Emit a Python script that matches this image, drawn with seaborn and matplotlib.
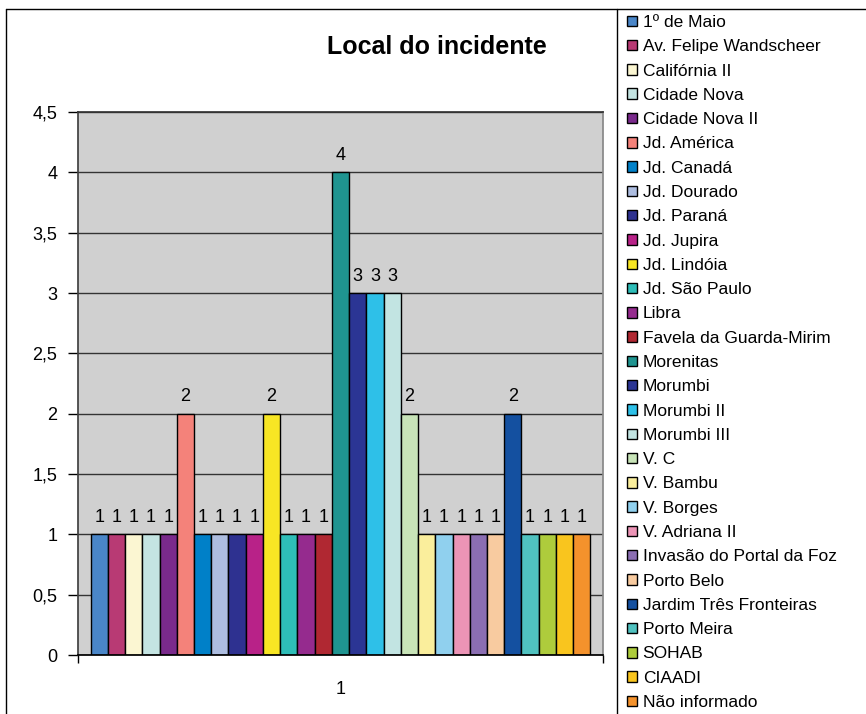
import numpy as np
import pandas as pd
import seaborn as sns
import matplotlib.pyplot as plt
from matplotlib.patches import Patch
from matplotlib.lines import Line2D

# dados
locais = ['1º de Maio', 'Av. Felipe Wandscheer', 'Califórnia II', 'Cidade Nova',
          'Cidade Nova II', 'Jd. América', 'Jd. Canadá', 'Jd. Dourado', 'Jd. Paraná',
          'Jd. Jupira', 'Jd. Lindóia', 'Jd. São Paulo', 'Libra', 'Favela da Guarda-Mirim',
          'Morenitas', 'Morumbi', 'Morumbi II', 'Morumbi III', 'V. C', 'V. Bambu',
          'V. Borges', 'V. Adriana II', 'Invasão do Portal da Foz', 'Porto Belo',
          'Jardim Três Fronteiras', 'Porto Meira', 'SOHAB', 'CIAADI', 'Não informado']
ocorrencias = [1, 1, 1, 1, 1, 2, 1, 1, 1, 1, 2, 1, 1, 1, 4, 3, 3, 3, 2, 1, 1, 1, 1, 1, 2, 1, 1, 1, 1]
cores = ['#4A86C8', '#B83A74', '#FBF6D2', '#C4E4E2', '#7A2A8C', '#F4827A', '#0080C8',
         '#ADBDE0', '#2E3190', '#B82288', '#F8E624', '#2EBDB8', '#952B8E', '#B02832',
         '#1F9490', '#2B3594', '#2EC0E8', '#C2E4E2', '#C8E4B8', '#FAEE9C', '#90D0EE',
         '#EC94B6', '#8B6EB2', '#F8CBA0', '#1450A0', '#50C2C0', '#AECC3C', '#F9C51E',
         '#F4922C']
y_ticks = [0, 0.5, 1, 1.5, 2, 2.5, 3, 3.5, 4, 4.5]

sns.set_theme(style='white')
plt.rcParams['font.family'] = ['Liberation Sans', 'DejaVu Sans']
plt.rcParams['text.color'] = 'black'
plt.rcParams['xtick.color'] = 'black'
plt.rcParams['ytick.color'] = 'black'

df = pd.DataFrame({'grupo': ['1'] * len(locais), 'local': locais, 'valor': ocorrencias})

fig = plt.figure(figsize=(8.66, 7.14), dpi=100)
ax = fig.add_axes([78 / 866, 59 / 714, 525 / 866, 543 / 714])

sns.barplot(data=df, x='grupo', y='valor', hue='local', hue_order=locais,
            palette=cores, width=0.952, edgecolor='black', linewidth=1,
            saturation=1, legend=False, ax=ax)

for c in ax.containers:
    ax.bar_label(c, fontsize=13, padding=6, color='black')

# eixo
ax.set_facecolor('#D0D0D0')
ax.set_ylim(0, 4.5)
ax.set_xlim(-0.5, 0.5)
ax.set_yticks(y_ticks)
ax.set_yticklabels([f'{v:g}'.replace('.', ',') for v in y_ticks])
ax.yaxis.grid(True, color='#333333', linewidth=1)
ax.set_axisbelow(True)
ax.set_xlabel('')
ax.set_ylabel('')
ax.tick_params(axis='y', direction='out', length=7, width=1, color='black',
               labelsize=13, pad=8, left=True, labelcolor='black')
ax.set_xticks([0])
ax.set_xticklabels(['1'])
ax.tick_params(axis='x', length=0, labelsize=13, pad=19, labelcolor='black')
ax.set_xticks([-0.5, 0.5], minor=True)
ax.tick_params(axis='x', which='minor', bottom=True, direction='out', length=6,
               width=1, color='black')
ax.spines['left'].set_color('#404040')
ax.spines['right'].set_color('#888888')
ax.spines['top'].set_color('#333333')
ax.spines['bottom'].set_color('black')

fig.text(437 / 866, 1 - 47 / 714, 'Local do incidente', ha='center', va='center',
         fontsize=18, fontweight='bold', color='black')

# legenda
handles = [Patch(facecolor=c, edgecolor='black', linewidth=1, label=l)
           for l, c in zip(locais, cores)]
fig.legend(handles=handles, loc='upper left', bbox_to_anchor=(627 / 866, 1 - 15 / 714),
           frameon=False, fontsize=12.5, handlelength=0.55, handleheight=0.55,
           handletextpad=0.35, labelspacing=0.535, borderaxespad=0, borderpad=0,
           labelcolor='black')

# moldura
top = 1 - 9 / 714
fig.add_artist(Line2D([6 / 866, 1], [top, top], color='black', lw=1))
fig.add_artist(Line2D([6 / 866, 6 / 866], [0, top], color='black', lw=1))
fig.add_artist(Line2D([617 / 866, 617 / 866], [0, top], color='black', lw=1))

fig.savefig('out.png', dpi=100)
